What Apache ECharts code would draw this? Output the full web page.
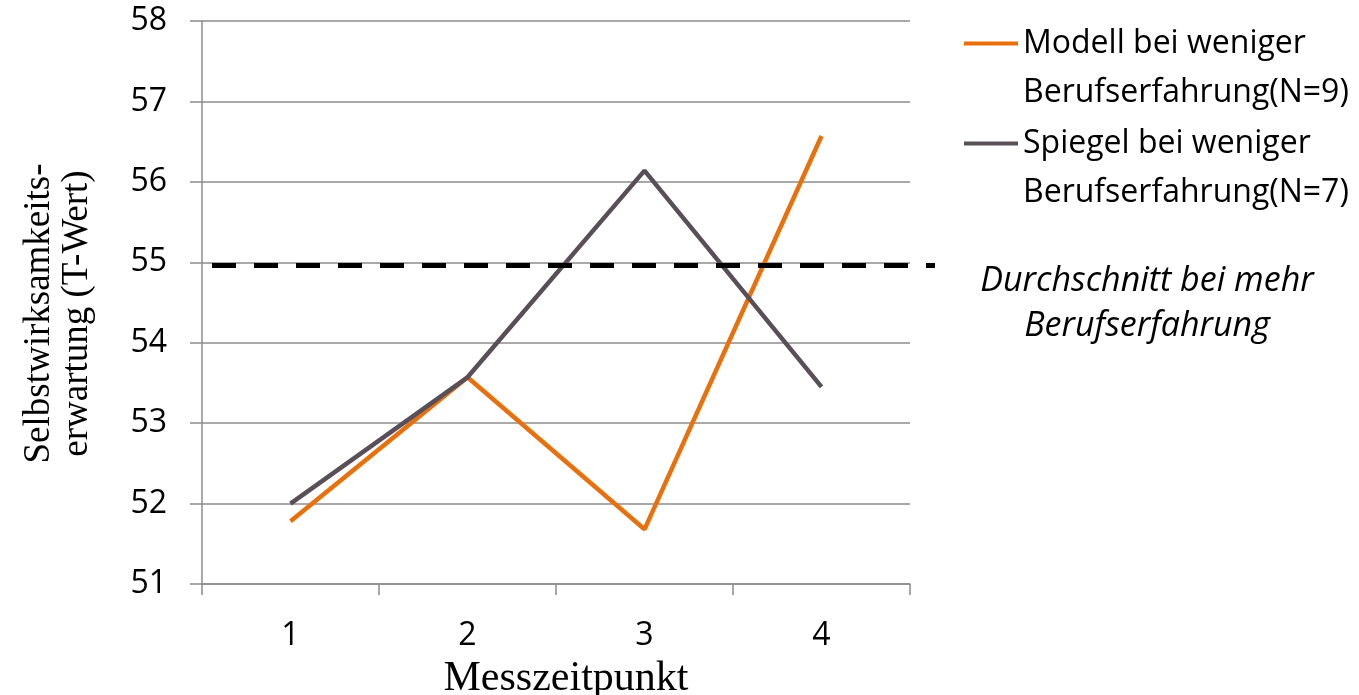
<!DOCTYPE html>
<html>
<head>
<meta charset="utf-8">
<script src="https://cdn.jsdelivr.net/npm/echarts@6/dist/echarts.min.js"></script>
<style>html,body{margin:0;padding:0;background:#fff;overflow:hidden}#c{width:1359px;height:695px}</style>
</head>
<body>
<div id="c"></div>
<script>
const categories = ['1', '2', '3', '4'];
const seriesNames = ['Modell bei weniger Berufserfahrung(N=9)', 'Spiegel bei weniger Berufserfahrung(N=7)'];
const modellValues = [51.78, 53.57, 51.68, 56.57];
const spiegelValues = [52.0, 53.57, 56.14, 53.45];
const referenceValue = 54.96;
const referenceLabel = 'Durchschnitt bei mehr\nBerufserfahrung';
const yTicks = { min: 51, max: 58, interval: 1 };

const sans = 'Open Sans';
const serif = 'Liberation Serif';
const chart = echarts.init(document.getElementById('c'));
chart.setOption({
  animation: false,
  backgroundColor: '#fff',
  title: {
    text: referenceLabel,
    left: 1142, top: 254, textAlign: 'center',
    textStyle: { fontFamily: sans, fontSize: 34, fontStyle: 'italic', fontWeight: 'normal', color: '#000', lineHeight: 45 }
  },
  legend: {
    data: seriesNames,
    orient: 'vertical', left: 964, top: -30, padding: 0,
    icon: 'rect', itemWidth: 54, itemHeight: 4, itemGap: -47,
    formatter: n => '\n' + n.replace(' Berufserfahrung', '\nBerufserfahrung'),
    textStyle: { fontFamily: sans, fontSize: 32, color: '#000', lineHeight: 49 }
  },
  grid: [
    { left: 202, right: 449, top: 21, bottom: 111, outerBoundsMode: 'none', containLabel: false },
    { left: 202, right: 424, top: 21, bottom: 111, outerBoundsMode: 'none', containLabel: false }
  ],
  xAxis: [
    {
      type: 'category', data: categories, gridIndex: 0, boundaryGap: true,
      name: 'Messzeitpunkt', nameLocation: 'middle', nameGap: 74,
      nameTextStyle: { fontFamily: serif, fontSize: 42, color: '#000', padding: [0, 0, 0, 20] },
      axisLine: { lineStyle: { color: '#8c8c8c', width: 1.5 } },
      axisTick: { show: true, length: 11, inside: false, lineStyle: { color: '#8c8c8c', width: 1.5 } },
      axisLabel: { fontFamily: sans, fontSize: 32, color: '#000', margin: 36 },
      splitLine: { show: false }
    },
    { type: 'value', gridIndex: 1, min: 0, max: 1, show: false }
  ],
  yAxis: [
    {
      type: 'value', gridIndex: 0, min: yTicks.min, max: yTicks.max, interval: yTicks.interval,
      name: 'Selbstwirksamkeits-\nerwartung (T-Wert)', nameLocation: 'middle', nameGap: 106, nameRotate: 90,
      nameTextStyle: { fontFamily: serif, fontSize: 37, color: '#000', lineHeight: 38, padding: [0, 22, 0, 0] },
      axisLine: { show: true, lineStyle: { color: '#8c8c8c', width: 1.5 } },
      axisTick: { show: true, length: 12, inside: false, lineStyle: { color: '#8c8c8c', width: 1.5 } },
      axisLabel: { fontFamily: sans, fontSize: 32, color: '#000', margin: 35 },
      splitLine: { show: true, lineStyle: { color: '#8c8c8c', width: 1.5 } }
    },
    { type: 'value', gridIndex: 1, min: yTicks.min, max: yTicks.max, show: false }
  ],
  series: [
    {
      name: seriesNames[0], type: 'line', data: modellValues, xAxisIndex: 0, yAxisIndex: 0,
      symbol: 'none', color: '#E8710E', lineStyle: { width: 4.5, color: '#E8710E' }, z: 3
    },
    {
      name: seriesNames[1], type: 'line', data: spiegelValues, xAxisIndex: 0, yAxisIndex: 0,
      symbol: 'none', color: '#594F58', lineStyle: { width: 4.5, color: '#594F58' }, z: 3
    },
    {
      name: 'ref', type: 'line', data: [[0, referenceValue], [1, referenceValue]], xAxisIndex: 1, yAxisIndex: 1,
      symbol: 'none', lineStyle: { width: 5, color: '#000', type: [24, 18], dashOffset: 32, cap: 'butt' }, z: 4
    }
  ]
});
</script>
</body>
</html>
